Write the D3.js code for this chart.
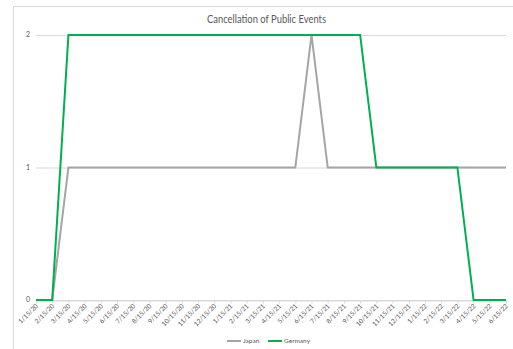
<!DOCTYPE html>
<html><head><meta charset="utf-8">
<script src="https://cdn.jsdelivr.net/npm/d3@7"></script>
<style>body{margin:0;background:#fff;}svg{display:block;font-family:Lato,"Open Sans",sans-serif;}</style>
</head><body>
<svg id="c" width="513" height="349"></svg>
<script>
const categories = ["1/15/20","2/15/20","3/15/20","4/15/20","5/15/20","6/15/20","7/15/20","8/15/20","9/15/20","10/15/20","11/15/20","12/15/20","1/15/21","2/15/21","3/15/21","4/15/21","5/15/21","6/15/21","7/15/21","8/15/21","9/15/21","10/15/21","11/15/21","12/15/21","1/15/22","2/15/22","3/15/22","4/15/22","5/15/22","6/15/22"];
const japan   = [0,0,1,1,1,1,1,1,1,1,1,1,1,1,1,1,1,2,1,1,1,1,1,1,1,1,1,1,1,1];
const germany = [0,0,2,2,2,2,2,2,2,2,2,2,2,2,2,2,2,2,2,2,2,1,1,1,1,1,1,0,0,0];
const yTicks = [0,1,2];
const seriesNames = ["Japan","Germany"];
const colors = ["#a5a5a5","#00b050"];

const svg = d3.select("#c");
svg.append("rect").attr("x",13.5).attr("y",6.5).attr("width",520).attr("height",360)
  .attr("fill","#fff").attr("stroke","#d9d9d9");

const x = d3.scalePoint().domain(categories).range([36,506]);
const y = d3.scaleLinear().domain([0,2]).range([300,35]);

svg.append("g").selectAll("line").data(yTicks).join("line")
  .attr("x1",36).attr("x2",506).attr("y1",d=>y(d)+0.5).attr("y2",d=>y(d)+0.5)
  .attr("stroke","#d9d9d9").attr("stroke-width",1);

svg.append("g").selectAll("text").data(yTicks).join("text")
  .attr("x",30).attr("y",d=>y(d)).attr("dy","0.35em").attr("text-anchor","end")
  .attr("font-size",7).attr("fill","#595959").text(d=>d);

const xAxis = d3.axisBottom(x).tickSize(3).tickSizeOuter(0);
const gx = svg.append("g").attr("transform","translate(0,300.5)").call(xAxis);
gx.select(".domain").attr("stroke","#d9d9d9");
gx.selectAll(".tick line").attr("stroke","#d9d9d9");
gx.selectAll(".tick text").attr("font-size",6.5).attr("fill","#595959")
  .attr("font-family","Lato, sans-serif")
  .attr("text-anchor","end").attr("dy",null).attr("y",0).attr("x",0)
  .attr("transform","translate(2,6) rotate(-45)");

const line = d3.line().x((d,i)=>x(categories[i])).y(d=>y(d));
[japan,germany].forEach((s,k)=>{
  svg.append("path").datum(s).attr("d",line).attr("fill","none")
    .attr("stroke",colors[k]).attr("stroke-width",2).attr("stroke-linejoin","miter");
});

svg.append("text").attr("x",266.5).attr("y",23).attr("text-anchor","middle")
  .attr("font-size",10.5).attr("fill","#595959")
  .attr("textLength",119).attr("lengthAdjust","spacingAndGlyphs")
  .text("Cancellation of Public Events");

const lg = [{x:227,name:seriesNames[0],c:colors[0]},{x:268,name:seriesNames[1],c:colors[1]}];
lg.forEach(d=>{
  svg.append("line").attr("x1",d.x).attr("x2",d.x+14).attr("y1",341).attr("y2",341)
    .attr("stroke",d.c).attr("stroke-width",2);
  svg.append("text").attr("x",d.x+16).attr("y",341).attr("dy","0.35em")
    .attr("font-size",6.5).attr("fill","#595959").text(d.name);
});
</script>
</body></html>
